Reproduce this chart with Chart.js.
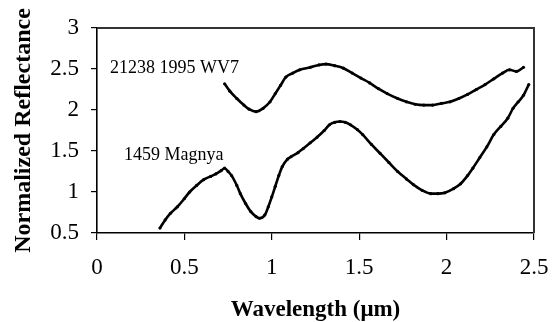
<!DOCTYPE html>
<html>
<head>
<meta charset="utf-8">
<script src="https://cdn.jsdelivr.net/npm/chart.js@4.4.1/dist/chart.umd.min.js"></script>
<style>
  html, body { margin: 0; padding: 0; background: #fff; }
  #wrap { width: 553px; height: 322px; }
</style>
</head>
<body>
<div id="wrap"><canvas id="specChart" width="553" height="322"></canvas></div>
<script>
// -------- Data --------

// 21238 1995 WV7
const wv7X = [0.73, 0.76, 0.80, 0.84, 0.87, 0.91, 0.95, 0.99, 1.02, 1.05, 1.08, 1.12, 1.16, 1.22, 1.27, 1.31,
    1.36, 1.41, 1.46, 1.51, 1.56, 1.61, 1.66, 1.72, 1.77, 1.82, 1.87, 1.92, 1.97, 2.02, 2.07, 2.12, 2.17,
    2.22, 2.27, 2.32, 2.36, 2.40, 2.44];
const wv7Y = [2.32, 2.23, 2.14, 2.06, 2.01, 1.98, 2.02, 2.10, 2.20, 2.30, 2.40, 2.45, 2.49, 2.52, 2.55, 2.56,
    2.54, 2.51, 2.45, 2.39, 2.33, 2.26, 2.20, 2.14, 2.10, 2.07, 2.06, 2.06, 2.08, 2.10, 2.14, 2.19, 2.25,
    2.31, 2.38, 2.45, 2.49, 2.47, 2.52];

// 1459 Magnya
const magnyaX = [0.36, 0.39, 0.42, 0.46, 0.50, 0.53, 0.57, 0.61, 0.65, 0.68, 0.71, 0.73, 0.75, 0.77, 0.80,
    0.82, 0.85, 0.88, 0.91, 0.93, 0.96, 0.98, 1.00, 1.02, 1.04, 1.06, 1.09, 1.11, 1.15, 1.18, 1.22, 1.26,
    1.30, 1.33, 1.36, 1.39, 1.42, 1.45, 1.49, 1.52, 1.57, 1.62, 1.67, 1.72, 1.77, 1.81, 1.86, 1.91, 1.95,
    1.99, 2.04, 2.08, 2.12, 2.15, 2.19, 2.23, 2.27, 2.31, 2.35, 2.38, 2.41, 2.44, 2.47];
const magnyaY = [0.56, 0.66, 0.74, 0.82, 0.92, 1.00, 1.08, 1.15, 1.19, 1.22, 1.26, 1.29, 1.25, 1.20, 1.08,
    0.98, 0.86, 0.76, 0.70, 0.68, 0.72, 0.82, 0.94, 1.07, 1.20, 1.31, 1.40, 1.43, 1.48, 1.53, 1.60, 1.67,
    1.75, 1.82, 1.85, 1.86, 1.85, 1.82, 1.76, 1.70, 1.58, 1.47, 1.36, 1.25, 1.16, 1.09, 1.02, 0.98, 0.98,
    0.99, 1.04, 1.10, 1.20, 1.29, 1.42, 1.55, 1.70, 1.80, 1.90, 2.02, 2.10, 2.18, 2.31];

const xTickLabels = ['0', '0.5', '1', '1.5', '2', '2.5'];
const yTickLabels = ['0.5', '1', '1.5', '2', '2.5', '3'];

const seriesNames = ['21238 1995 WV7', '1459 Magnya'];

// -------- Chart --------

function toPoints(xs, ys){
    let pts = [];
    for(let i=0; i<xs.length; i++){
        pts.push({ x: xs[i], y: ys[i] });
    }
    return pts;
}

// where the curve names sit, in axis units
const labelAnchors = [
    { x: 0.075, y: 2.51 },
    { x: 0.155, y: 1.45 }
];

const SERIF = "'Liberation Serif', 'Times New Roman', serif";

const frameAndLabels = {
    id: 'frameAndLabels',
    afterDraw(chart){
        const a = chart.chartArea;
        const ctx = chart.ctx;
        const xs = chart.scales.x, ys = chart.scales.y;
        ctx.save();
        // top and right side of the plot frame
        ctx.fillStyle = '#333333';
        ctx.fillRect(a.left, a.top - 1, a.right - a.left + 1, 2);
        ctx.fillRect(a.right - 1, a.top - 1, 2, a.bottom - a.top + 1);

        ctx.fillStyle = '#000';
        ctx.font = "18px " + SERIF;
        ctx.textBaseline = 'middle';
        ctx.textAlign = 'left';
        for(let i=0; i<seriesNames.length; i++){
            ctx.fillText(seriesNames[i],
                xs.getPixelForValue(labelAnchors[i].x),
                ys.getPixelForValue(labelAnchors[i].y));
        }
        ctx.restore();
    }
};

function lineSet(data){
    return {
        data: data,
        showLine: true,
        borderColor: '#000',
        backgroundColor: '#000',
        borderWidth: 2.6,
        pointRadius: 1.6,
        pointBorderWidth: 0,
        cubicInterpolationMode: 'monotone'
    };
}

window.onload = function(){

    const ctx = document.getElementById('specChart').getContext('2d');

    new Chart(ctx, {
        type: 'scatter',
        data: {
            datasets: [
                lineSet(toPoints(wv7X, wv7Y)),
                lineSet(toPoints(magnyaX, magnyaY))
            ]
        },
        options: {
            responsive: false,
            animation: false,
            layout: { padding: { top: 28, right: 19, left: 0, bottom: 0 } },
            plugins: {
                legend: { display: false },
                tooltip: { enabled: false }
            },
            scales: {
                x: {
                    type: 'linear',
                    min: 0,
                    max: 2.5,
                    afterFit: function(s){
                        s.height = 89;
                        s.paddingLeft = 0;
                        s.paddingRight = 0;
                    },
                    border: { color: '#000', width: 1.6 },
                    grid: { drawOnChartArea: false, color: '#000', tickLength: 7, lineWidth: 1.2 },
                    ticks: {
                        stepSize: 0.5,
                        padding: 14,
                        color: '#000',
                        maxRotation: 0,
                        font: { family: SERIF, size: 23 },
                        callback: function(v, i){ return xTickLabels[i]; }
                    },
                    title: {
                        display: true,
                        text: 'Wavelength (\u03bcm)',
                        color: '#000',
                        font: { family: SERIF, size: 23, weight: 'bold', lineHeight: 1 },
                        padding: { top: 0, bottom: 0 }
                    }
                },
                y: {
                    min: 0.5,
                    max: 3,
                    afterFit: function(s){
                        s.width = 97;
                        s.paddingTop = 0;
                        s.paddingBottom = 0;
                    },
                    border: { color: '#000', width: 1.6 },
                    grid: { drawOnChartArea: false, color: '#000', tickLength: 6, lineWidth: 1.2 },
                    ticks: {
                        stepSize: 0.5,
                        padding: 12,
                        color: '#000',
                        font: { family: SERIF, size: 23 },
                        callback: function(v, i){ return yTickLabels[i]; }
                    },
                    title: {
                        display: true,
                        text: 'Normalized Reflectance',
                        color: '#000',
                        font: { family: SERIF, size: 24, weight: 'bold', lineHeight: 1 },
                        padding: { top: 12, bottom: 0 }
                    }
                }
            }
        },
        plugins: [frameAndLabels]
    });

};
</script>
</body>
</html>
